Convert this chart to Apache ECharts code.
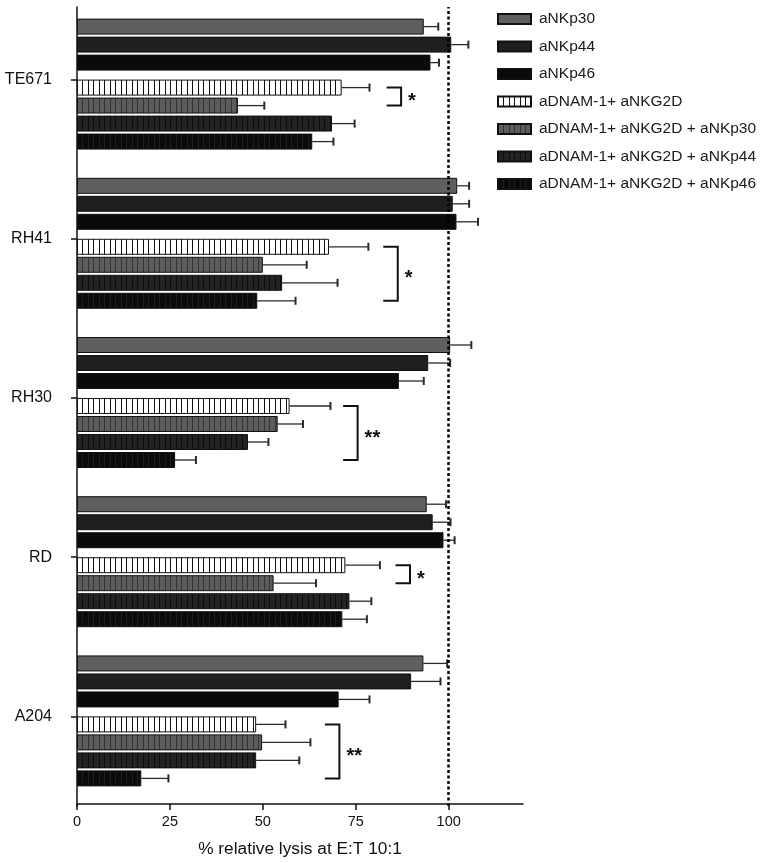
<!DOCTYPE html>
<html>
<head>
<meta charset="utf-8">
<script src="https://cdn.jsdelivr.net/npm/echarts@6/dist/echarts.min.js"></script>
<style>
  html, body { margin: 0; padding: 0; background: #fff; }
  #chart { width: 765px; height: 863px; }
</style>
</head>
<body>
<div id="chart"></div>
<script>
// cell lines (top to bottom)
const cellLines = ['TE671', 'RH41', 'RH30', 'RD', 'A204'];
const seriesNames = ['aNKp30', 'aNKp44', 'aNKp46', 'aDNAM-1+ aNKG2D',
    'aDNAM-1+ aNKG2D + aNKp30', 'aDNAM-1+ aNKG2D + aNKp44', 'aDNAM-1+ aNKG2D + aNKp46'];

// % relative lysis, mean and error per cell line
const aNKp30 = [93.3, 102.3, 100.4, 94.1, 93.2];
const aNKp30Err = [3.9, 3.2, 5.7, 5.2, 6.4];
const aNKp44 = [100.7, 101.1, 94.5, 95.7, 89.9];
const aNKp44Err = [4.6, 4.4, 5.9, 4.8, 7.9];
const aNKp46 = [95.1, 102.1, 86.6, 98.6, 70.4];
const aNKp46Err = [2.3, 5.8, 6.7, 3.0, 8.3];
const dnam = [71.2, 67.8, 57.2, 72.2, 48.2];
const dnamErr = [7.5, 10.6, 11.0, 9.3, 7.9];
const dnamP30 = [43.3, 50.0, 54.0, 52.9, 49.8];
const dnamP30Err = [7.1, 11.8, 6.8, 11.4, 13.0];
const dnamP44 = [68.6, 55.2, 46.0, 73.3, 48.2];
const dnamP44Err = [6.1, 14.9, 5.5, 5.9, 11.6];
const dnamP46 = [63.3, 48.5, 26.4, 71.4, 17.3];
const dnamP46Err = [5.7, 10.3, 5.6, 6.6, 7.3];

// significance brackets: cell line, first bar, last bar, x position, label
const sigCat = [0, 1, 2, 3, 4];
const sigFrom = [3, 3, 3, 3, 3];
const sigTo = [4, 6, 6, 4, 6];
const sigX = [83.3, 82.4, 71.6, 85.7, 66.7];
const sigLabel = ['*', '*', '**', '*', '**'];

const xTicks = [0, 25, 50, 75, 100];

const means = [aNKp30, aNKp44, aNKp46, dnam, dnamP30, dnamP44, dnamP46];
const errs = [aNKp30Err, aNKp44Err, aNKp46Err, dnamErr, dnamP30Err, dnamP44Err, dnamP46Err];

const FONT = '"Liberation Sans", Arial, sans-serif';
const BAR_W = 16;
const GAP = 0.125;
// column widths as ECharts lays them out: lead spacer, 3 bars, mid spacer, 4 bars
const colWidths = [8, BAR_W, BAR_W, BAR_W, 6.2, BAR_W, BAR_W, BAR_W, BAR_W];
const realCols = [1, 2, 3, 5, 6, 7, 8];

// center offset (px) of each real bar inside its category band
const colCenter = (function () {
    let total = 0;
    colWidths.forEach(w => total += w * (1 + GAP));
    total -= colWidths[colWidths.length - 1] * GAP;
    let off = -total / 2;
    const centers = [];
    colWidths.forEach(w => {
        centers.push(off + w / 2);
        off += w * (1 + GAP);
    });
    return realCols.map(i => centers[i]);
})();

function stripes(bg, fg) {
    const c = document.createElement('canvas');
    c.width = 11;
    c.height = 4;
    const ctx = c.getContext('2d');
    ctx.fillStyle = bg;
    ctx.fillRect(0, 0, 11, 4);
    ctx.fillStyle = fg;
    ctx.fillRect(0, 0, 1, 4);
    ctx.fillRect(5, 0, 1, 4);
    return {image: c, repeat: 'repeat'};
}

const fills = [
    '#5f5f5f',
    '#1f1f1f',
    '#0a0a0a',
    stripes('#ffffff', '#111111'),
    stripes('#5c5c5c', '#333333'),
    stripes('#232323', '#0c0c0c'),
    stripes('#0b0b0b', '#1e1e1e')
];

const chart = echarts.init(document.getElementById('chart'));

const series = [];
function spacer(name, w) {
    return {
        name: name, type: 'bar', xAxisIndex: 0, yAxisIndex: 0,
        barWidth: w, barGap: GAP * 100 + '%', data: [], silent: true
    };
}
series.push(spacer('_lead', colWidths[0]));
seriesNames.forEach(function (name, k) {
    if (k === 3) series.push(spacer('_mid', colWidths[4]));
    series.push({
        name: name,
        type: 'bar',
        xAxisIndex: 0,
        yAxisIndex: 0,
        barWidth: BAR_W,
        barGap: GAP * 100 + '%',
        itemStyle: {color: fills[k], borderColor: '#111', borderWidth: 1},
        data: means[k]
    });
});

// error bars
const errData = [];
means.forEach(function (arr, k) {
    arr.forEach(function (m, c) {
        errData.push([m, c, errs[k][c], k]);
    });
});
series.push({
    type: 'custom',
    name: '_err',
    xAxisIndex: 0,
    yAxisIndex: 0,
    silent: true,
    encode: {x: 0, y: 1},
    data: errData,
    renderItem: function (params, api) {
        const m = api.value(0), c = api.value(1), e = api.value(2), k = api.value(3);
        const p0 = api.coord([m, c]);
        const p1 = api.coord([m + e, c]);
        const y = p0[1] + colCenter[k];
        return {
            type: 'group',
            children: [
                {type: 'line', shape: {x1: p0[0], y1: y, x2: p1[0], y2: y},
                    style: {stroke: '#2a2a2a', lineWidth: 1.3}},
                {type: 'line', shape: {x1: p1[0], y1: y - 4, x2: p1[0], y2: y + 4},
                    style: {stroke: '#2a2a2a', lineWidth: 2}}
            ]
        };
    }
});

// significance brackets
const sigData = sigCat.map((c, i) => [sigX[i], c, sigFrom[i], sigTo[i]]);
series.push({
    type: 'custom',
    name: '_sig',
    xAxisIndex: 0,
    yAxisIndex: 0,
    silent: true,
    encode: {x: 0, y: 1},
    data: sigData,
    renderItem: function (params, api) {
        const x = api.value(0), c = api.value(1), a = api.value(2), b = api.value(3);
        const pL = api.coord([x, c]);
        const pR = api.coord([x + 3.9, c]);
        const yT = pL[1] + colCenter[a];
        const yB = pL[1] + colCenter[b];
        return {
            type: 'group',
            children: [
                {type: 'polyline', shape: {points: [[pL[0], yT], [pR[0], yT], [pR[0], yB], [pL[0], yB]]},
                    style: {stroke: '#111', lineWidth: 2, fill: null}},
                {type: 'text', x: pR[0] + 7, y: (yT + yB) / 2 + 5,
                    style: {text: sigLabel[params.dataIndex], fill: '#111', fontSize: 20,
                        fontWeight: 'bold', fontFamily: FONT, align: 'left', verticalAlign: 'middle'}}
            ]
        };
    }
});

// dotted reference line at 100 %
series.push({
    type: 'scatter',
    name: '_ref',
    xAxisIndex: 1,
    yAxisIndex: 1,
    data: [],
    silent: true,
    markLine: {
        silent: true,
        symbol: 'none',
        label: {show: false},
        lineStyle: {color: '#000', width: 2.5, type: [3, 2.5]},
        data: [{xAxis: 100}]
    }
});

chart.setOption({
    backgroundColor: '#fff',
    animation: false,
    textStyle: {fontFamily: FONT},
    legend: {
        data: seriesNames.map(n => ({name: n, icon: 'rect'})),
        orient: 'vertical',
        left: 492,
        top: 6,
        itemWidth: 33,
        itemHeight: 10,
        itemGap: 11.5,
        selectedMode: false,
        textStyle: {fontSize: 15.5, color: '#1a1a1a', fontFamily: FONT, padding: [0, 0, 0, 3]}
    },
    grid: [
        {left: 77, right: 242, top: 0, height: 798},
        {left: 77, right: 242, top: 7, bottom: 57}
    ],
    xAxis: [
        {
            type: 'value',
            gridIndex: 0,
            min: 0,
            max: 120,
            interval: 25,
            offset: 8,
            name: '% relative lysis at E:T 10:1',
            nameLocation: 'middle',
            nameGap: 37,
            nameTextStyle: {fontSize: 17.3, color: '#111', fontFamily: FONT},
            axisLine: {show: true, lineStyle: {color: '#111', width: 1.5}},
            axisTick: {show: true, length: 6, lineStyle: {color: '#111', width: 1.5}, customValues: xTicks},
            axisLabel: {fontSize: 14.5, color: '#111', margin: 10, customValues: xTicks},
            splitLine: {show: false}
        },
        {type: 'value', gridIndex: 1, min: 0, max: 120, show: false}
    ],
    yAxis: [
        {
            type: 'category',
            gridIndex: 0,
            data: cellLines,
            inverse: true,
            offset: 13,
            axisLine: {show: false},
            axisTick: {show: true, alignWithLabel: true, length: 6, lineStyle: {color: '#111', width: 1.5}},
            axisLabel: {fontSize: 16, color: '#111', margin: 12},
            splitLine: {show: false}
        },
        {
            type: 'value',
            gridIndex: 1,
            min: 0,
            max: 1,
            offset: 13,
            axisLine: {show: true, lineStyle: {color: '#111', width: 1.5}},
            axisTick: {show: false},
            axisLabel: {show: false},
            splitLine: {show: false}
        }
    ],
    series: series
});
</script>
</body>
</html>
